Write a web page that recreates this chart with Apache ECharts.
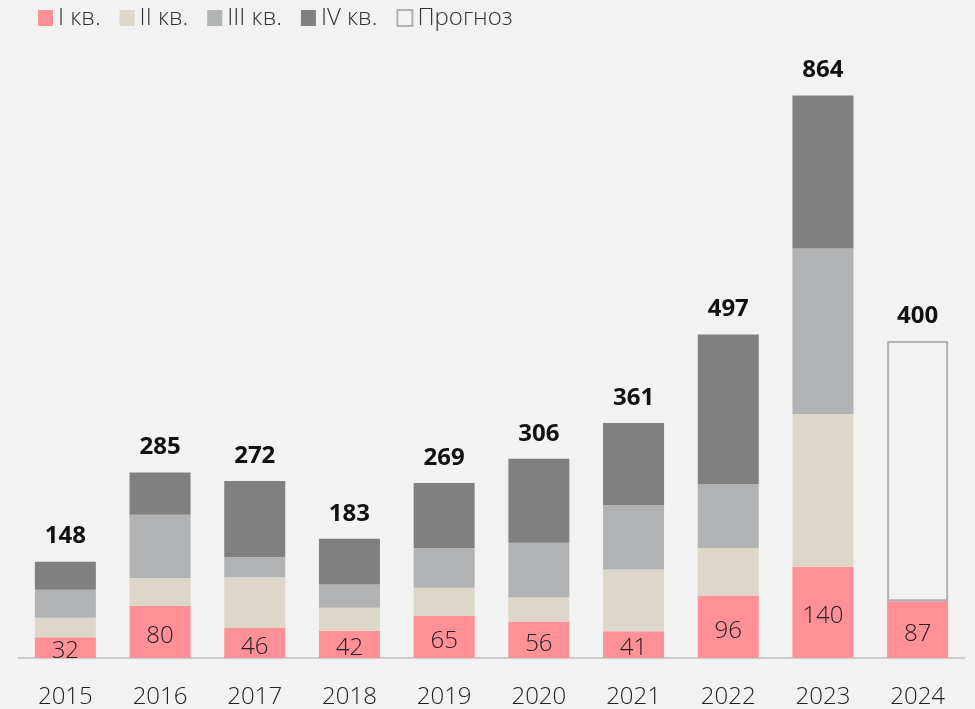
<!DOCTYPE html>
<html>
<head>
<meta charset="utf-8">
<script src="https://cdn.jsdelivr.net/npm/echarts@6/dist/echarts.min.js"></script>
<style>
  html, body { margin: 0; padding: 0; background: #f2f2f2; }
  #chart { width: 975px; height: 709px; }
</style>
</head>
<body>
<div id="chart"></div>
<script>
const years = ["2015", "2016", "2017", "2018", "2019", "2020", "2021", "2022", "2023", "2024"];
const q1 = [32, 80, 46, 42, 65, 56, 41, 96, 140, 87];
const q2 = [30, 43, 78, 35, 43, 37, 95, 73, 235, null];
const q3 = [43, 97, 31, 36, 61, 84, 99, 98, 254, null];
const q4 = [43, 65, 117, 70, 100, 129, 126, 230, 235, null];
const forecast = [null, null, null, null, null, null, null, null, null, 400];
const topLabels = [148, 285, 272, 183, 269, 306, 361, 497, 864, 400];

const font = "'Open Sans', 'Noto Sans', sans-serif";
const chart = echarts.init(document.getElementById("chart"));

const totalLabel = {
  show: true,
  position: "top",
  distance: 13,
  fontFamily: font,
  fontSize: 24,
  fontWeight: "bold",
  color: "#111",
  formatter: (p) => topLabels[p.dataIndex],
};

chart.setOption({
  backgroundColor: "#f2f2f2",
  animation: false,
  textStyle: { fontFamily: font },
  legend: {
    left: 33,
    top: 1,
    icon: "rect",
    itemWidth: 15,
    itemHeight: 16,
    itemGap: 19,
    textStyle: { fontFamily: font, fontSize: 24, fontWeight: 300, color: "#333" },
  },
  grid: { left: 18, right: 10, top: 7, bottom: 50 },
  xAxis: {
    type: "category",
    data: years,
    axisTick: { show: false },
    axisLine: { lineStyle: { color: "#bfbfbf", width: 1.5 } },
    axisLabel: { color: "#222", fontFamily: font, fontSize: 24, fontWeight: 300, margin: 27 },
  },
  yAxis: { type: "value", min: 0, max: 1000, show: false, splitLine: { show: false } },
  series: [
    {
      name: "I кв.", type: "bar", stack: "t", data: q1, barWidth: 61,
      itemStyle: { color: "#ff9096" },
      label: { show: true, position: "inside", offset: [0, 4], fontFamily: font, fontSize: 24, fontWeight: 300, color: "#222" },
    },
    { name: "II кв.", type: "bar", stack: "t", data: q2, itemStyle: { color: "#ddd7ca" } },
    { name: "III кв.", type: "bar", stack: "t", data: q3, itemStyle: { color: "#b1b2b4" } },
    { name: "IV кв.", type: "bar", stack: "t", data: q4, itemStyle: { color: "#808080" }, label: totalLabel },
    {
      name: "Прогноз", type: "bar", stack: "t", data: forecast,
      itemStyle: { color: "#f2f2f2", borderColor: "#b0b0b0", borderWidth: 2 },
      label: totalLabel,
    },
  ],
});
</script>
</body>
</html>
